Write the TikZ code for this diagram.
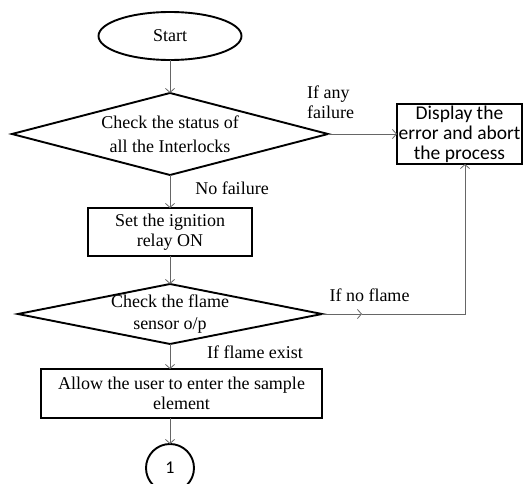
\documentclass[tikz,border=0pt]{standalone}
\usepackage{fontspec}
\setmainfont{Liberation Serif}
\newfontfamily\calibri{Carlito}
\usetikzlibrary{shapes.geometric, positioning, arrows.meta, calc}

\tikzset{
    startstop/.style={draw, ellipse, line width=1.9pt, minimum width=143pt, minimum height=48pt, inner sep=0pt, outer sep=0pt},
    decision/.style={draw, diamond, line width=1.9pt, inner sep=-4pt, outer sep=0pt, align=center},
    process/.style={draw, rectangle, line width=1.9pt, align=center, inner sep=0pt, outer sep=0pt},
    connector/.style={draw, circle, line width=1.9pt, minimum size=48pt, inner sep=0pt, outer sep=0pt},
    arrow/.style={draw=black!60, line width=0.8pt, -{Straight Barb[length=4pt,width=9pt]}},
    lbl/.style={inner sep=0pt, align=left}
}

\begin{document}
\begin{tikzpicture}[font=\fontsize{18}{20}\selectfont]

    \useasboundingbox (0,0) rectangle (523pt,-484pt);

    \node[startstop] (start) at (170pt,-36pt) {Start};

    \node[decision, aspect=3.85, minimum width=316pt, minimum height=82pt, below=33pt of start,
          font=\fontsize{18}{24}\selectfont] (interlock)
    {Check the status of\\all the Interlocks};

    \node[process, minimum width=164pt, minimum height=48pt, below=33pt of interlock] (ignition)
    {Set the ignition\\relay ON};

    \node[decision, aspect=5.07, minimum width=304pt, minimum height=60pt, below=28pt of ignition,
          font=\fontsize{18}{22}\selectfont] (flame)
    {Check the flame\\sensor o/p};

    \node[process, minimum width=281pt, minimum height=49pt, below=25pt of flame, xshift=11.5pt] (sample)
    {Allow the user to enter the sample\\element};

    \node[connector, below=26pt of sample, xshift=-11.5pt, font=\calibri\fontsize{18}{20}\selectfont] (next) {1};

    \node[process, minimum width=125pt, minimum height=60pt, right=69pt of interlock,
          font=\calibri\fontsize{19.5}{20}\selectfont] (abort)
    {Display the\\error and abort\\the process};

    \coordinate (nf) at ($(flame.east)+(40pt,0)$);
    \coordinate (turn) at ($(abort.south)+(5.5pt,0)$);

    \draw[arrow] (start) -- (interlock);
    \draw[arrow] (interlock) -- (ignition);
    \draw[arrow] (ignition) -- (flame);
    \draw[arrow] (flame.south) -- (flame.south |- sample.north);
    \draw[arrow] (sample.south -| next) -- (next);
    \draw[arrow] (interlock) -- (abort);
    \draw[arrow] (flame.east) -- (nf);
    \draw[arrow] (nf) -- (nf -| turn) -- (turn);

    \node[lbl, anchor=north west] (anyfail) at (307pt,-86pt) {If any\\failure};
    \node[lbl] (nofail) at (232pt,-188pt) {No failure};
    \node[lbl] (noflame) at (369.5pt,-295pt) {If no flame};
    \node[lbl] (flameok) at (255pt,-352pt) {If flame exist};

\end{tikzpicture}
\end{document}
